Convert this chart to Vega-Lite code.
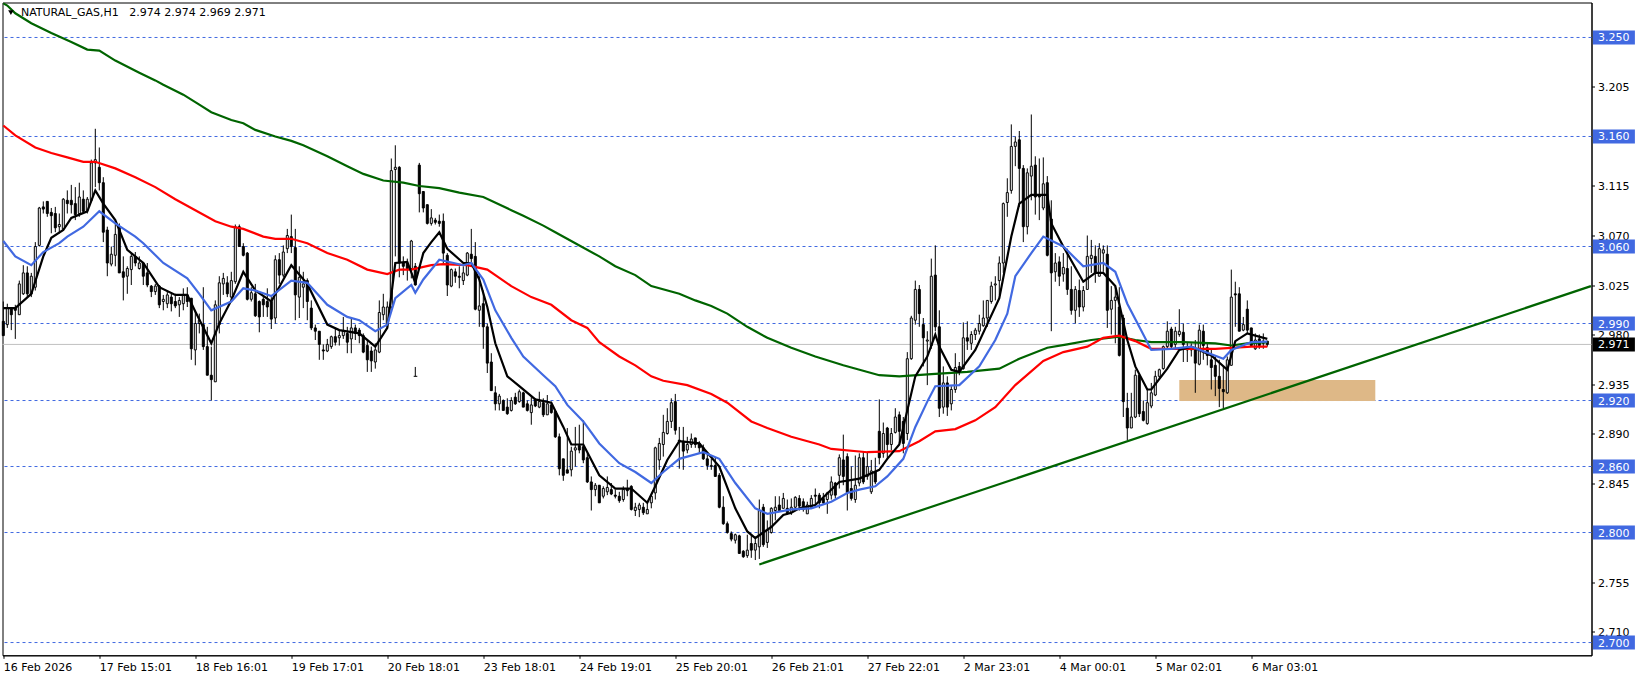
{"$schema":"https://vega.github.io/schema/vega-lite/v6.json","autosize":{"type":"none"},"padding":{"left":2.5,"top":2.5,"right":49.5,"bottom":23.7},"width":1589,"height":652.8,"background":"#ffffff","view":{"stroke":"#000000","strokeWidth":1,"fill":"#ffffff"},
"config":{"text":{"font":"DejaVu Sans","fontSize":11},"axis":{"labelFont":"DejaVu Sans","labelFontSize":11,"labelColor":"#000000","tickColor":"#000000","domainColor":"#000000","grid":false,"title":null}},
"datasets":{
"levels":[{"level":3.25,"label":"3.250"},{"level":3.16,"label":"3.160"},{"level":3.06,"label":"3.060"},{"level":2.99,"label":"2.990"},{"level":2.92,"label":"2.920"},{"level":2.86,"label":"2.860"},{"level":2.8,"label":"2.800"},{"level":2.7,"label":"2.700"}],
"candles":[
{"b":0,"o":2.992,"h":3.010,"l":2.979,"c":2.979},{"b":1,"o":2.989,"h":3.008,"l":2.986,"c":3.004},{"b":2,"o":3.004,"h":3.004,"l":2.984,"c":2.998},{"b":3,"o":3.004,"h":3.007,"l":2.976,"c":3.002},{"b":4,"o":2.998,"h":3.029,"l":2.998,"c":3.026},{"b":5,"o":3.017,"h":3.043,"l":3.016,"c":3.036},{"b":6,"o":3.036,"h":3.042,"l":3.014,"c":3.017},{"b":7,"o":3.017,"h":3.036,"l":3.014,"c":3.033},{"b":8,"o":3.023,"h":3.064,"l":3.020,"c":3.060},{"b":9,"o":3.061,"h":3.096,"l":3.060,"c":3.095},
{"b":10,"o":3.096,"h":3.101,"l":3.090,"c":3.094},{"b":11,"o":3.101,"h":3.101,"l":3.087,"c":3.090},{"b":12,"o":3.091,"h":3.095,"l":3.072,"c":3.088},{"b":13,"o":3.090,"h":3.096,"l":3.073,"c":3.077},{"b":14,"o":3.078,"h":3.090,"l":3.072,"c":3.080},{"b":15,"o":3.076,"h":3.104,"l":3.075,"c":3.103},{"b":16,"o":3.102,"h":3.111,"l":3.090,"c":3.099},{"b":17,"o":3.102,"h":3.116,"l":3.090,"c":3.098},{"b":18,"o":3.099,"h":3.114,"l":3.084,"c":3.089},{"b":19,"o":3.090,"h":3.118,"l":3.087,"c":3.105},
{"b":20,"o":3.103,"h":3.111,"l":3.090,"c":3.092},{"b":21,"o":3.093,"h":3.105,"l":3.090,"c":3.103},{"b":22,"o":3.102,"h":3.139,"l":3.102,"c":3.136},{"b":23,"o":3.136,"h":3.167,"l":3.114,"c":3.139},{"b":24,"o":3.132,"h":3.150,"l":3.111,"c":3.118},{"b":25,"o":3.118,"h":3.123,"l":3.064,"c":3.073},{"b":26,"o":3.075,"h":3.078,"l":3.033,"c":3.045},{"b":27,"o":3.044,"h":3.060,"l":3.042,"c":3.053},{"b":28,"o":3.052,"h":3.082,"l":3.042,"c":3.071},{"b":29,"o":3.078,"h":3.081,"l":3.036,"c":3.036},
{"b":30,"o":3.037,"h":3.051,"l":3.011,"c":3.032},{"b":31,"o":3.033,"h":3.042,"l":3.017,"c":3.040},{"b":32,"o":3.039,"h":3.054,"l":3.025,"c":3.051},{"b":33,"o":3.051,"h":3.055,"l":3.042,"c":3.045},{"b":34,"o":3.040,"h":3.051,"l":3.039,"c":3.045},{"b":35,"o":3.045,"h":3.046,"l":3.025,"c":3.033},{"b":36,"o":3.036,"h":3.045,"l":3.023,"c":3.025},{"b":37,"o":3.024,"h":3.025,"l":3.014,"c":3.019},{"b":38,"o":3.019,"h":3.026,"l":3.016,"c":3.024},{"b":39,"o":3.024,"h":3.025,"l":3.004,"c":3.007},
{"b":40,"o":3.010,"h":3.016,"l":3.002,"c":3.012},{"b":41,"o":3.008,"h":3.020,"l":3.004,"c":3.016},{"b":42,"o":3.014,"h":3.017,"l":3.001,"c":3.008},{"b":43,"o":3.010,"h":3.017,"l":3.004,"c":3.006},{"b":44,"o":3.007,"h":3.014,"l":2.996,"c":3.011},{"b":45,"o":3.008,"h":3.022,"l":3.002,"c":3.016},{"b":46,"o":3.016,"h":3.023,"l":3.005,"c":3.010},{"b":47,"o":3.013,"h":3.013,"l":2.957,"c":2.967},{"b":48,"o":2.966,"h":3.002,"l":2.952,"c":2.990},{"b":49,"o":2.990,"h":2.999,"l":2.981,"c":2.993},
{"b":50,"o":2.989,"h":3.023,"l":2.966,"c":2.969},{"b":51,"o":2.969,"h":2.987,"l":2.943,"c":2.943},{"b":52,"o":2.943,"h":2.969,"l":2.920,"c":2.939},{"b":53,"o":2.937,"h":3.011,"l":2.937,"c":3.007},{"b":54,"o":2.989,"h":3.033,"l":2.981,"c":3.027},{"b":55,"o":3.026,"h":3.036,"l":3.016,"c":3.031},{"b":56,"o":3.027,"h":3.033,"l":3.014,"c":3.017},{"b":57,"o":3.014,"h":3.037,"l":3.010,"c":3.029},{"b":58,"o":3.028,"h":3.080,"l":3.026,"c":3.078},{"b":59,"o":3.078,"h":3.080,"l":3.060,"c":3.060},
{"b":60,"o":3.060,"h":3.063,"l":3.051,"c":3.052},{"b":61,"o":3.054,"h":3.055,"l":3.011,"c":3.012},{"b":62,"o":3.012,"h":3.023,"l":3.010,"c":3.018},{"b":63,"o":3.017,"h":3.026,"l":2.996,"c":2.997},{"b":64,"o":3.010,"h":3.011,"l":2.982,"c":2.996},{"b":65,"o":3.012,"h":3.014,"l":2.996,"c":3.007},{"b":66,"o":3.010,"h":3.022,"l":2.996,"c":3.005},{"b":67,"o":3.010,"h":3.014,"l":2.985,"c":2.994},{"b":68,"o":2.995,"h":3.052,"l":2.990,"c":3.048},{"b":69,"o":3.048,"h":3.054,"l":3.026,"c":3.034},
{"b":70,"o":3.034,"h":3.061,"l":3.032,"c":3.055},{"b":71,"o":3.058,"h":3.076,"l":3.054,"c":3.070},{"b":72,"o":3.069,"h":3.089,"l":3.054,"c":3.060},{"b":73,"o":3.059,"h":3.076,"l":2.993,"c":3.016},{"b":74,"o":3.014,"h":3.042,"l":2.995,"c":3.032},{"b":75,"o":3.023,"h":3.037,"l":3.004,"c":3.026},{"b":76,"o":3.029,"h":3.031,"l":2.993,"c":3.010},{"b":77,"o":3.004,"h":3.011,"l":2.984,"c":2.986},{"b":78,"o":2.986,"h":2.989,"l":2.975,"c":2.983},{"b":79,"o":2.983,"h":2.983,"l":2.957,"c":2.971},
{"b":80,"o":2.966,"h":2.971,"l":2.957,"c":2.965},{"b":81,"o":2.965,"h":2.976,"l":2.964,"c":2.971},{"b":82,"o":2.969,"h":2.979,"l":2.967,"c":2.978},{"b":83,"o":2.978,"h":2.986,"l":2.970,"c":2.973},{"b":84,"o":2.977,"h":2.984,"l":2.970,"c":2.979},{"b":85,"o":2.979,"h":2.996,"l":2.976,"c":2.983},{"b":86,"o":2.981,"h":2.987,"l":2.963,"c":2.973},{"b":87,"o":2.976,"h":2.995,"l":2.963,"c":2.986},{"b":88,"o":2.986,"h":2.989,"l":2.975,"c":2.981},{"b":89,"o":2.984,"h":2.986,"l":2.972,"c":2.979},
{"b":90,"o":2.979,"h":2.981,"l":2.963,"c":2.964},{"b":91,"o":2.970,"h":2.975,"l":2.946,"c":2.957},{"b":92,"o":2.965,"h":2.969,"l":2.946,"c":2.956},{"b":93,"o":2.955,"h":2.972,"l":2.949,"c":2.966},{"b":94,"o":2.964,"h":3.011,"l":2.963,"c":3.000},{"b":95,"o":2.998,"h":3.017,"l":2.993,"c":3.005},{"b":96,"o":2.989,"h":3.010,"l":2.986,"c":3.005},{"b":97,"o":3.005,"h":3.140,"l":3.004,"c":3.129},{"b":98,"o":3.130,"h":3.152,"l":3.051,"c":3.132},{"b":99,"o":3.132,"h":3.133,"l":3.032,"c":3.045},
{"b":100,"o":3.045,"h":3.051,"l":3.034,"c":3.042},{"b":101,"o":3.045,"h":3.049,"l":3.029,"c":3.040},{"b":102,"o":3.040,"h":3.066,"l":3.031,"c":3.065},{"b":103,"o":3.042,"h":3.045,"l":3.025,"c":3.025},{"b":104,"o":3.134,"h":3.136,"l":3.091,"c":3.108},{"b":105,"o":3.110,"h":3.110,"l":3.091,"c":3.095},{"b":106,"o":3.098,"h":3.098,"l":3.080,"c":3.081},{"b":107,"o":3.081,"h":3.094,"l":3.079,"c":3.086},{"b":108,"o":3.084,"h":3.086,"l":3.080,"c":3.082},{"b":109,"o":3.083,"h":3.089,"l":3.078,"c":3.081},
{"b":110,"o":3.083,"h":3.090,"l":3.045,"c":3.054},{"b":111,"o":3.052,"h":3.054,"l":3.015,"c":3.025},{"b":112,"o":3.024,"h":3.040,"l":3.023,"c":3.039},{"b":113,"o":3.037,"h":3.040,"l":3.027,"c":3.033},{"b":114,"o":3.033,"h":3.042,"l":3.022,"c":3.032},{"b":115,"o":3.029,"h":3.042,"l":3.025,"c":3.036},{"b":116,"o":3.034,"h":3.055,"l":3.033,"c":3.054},{"b":117,"o":3.053,"h":3.076,"l":3.045,"c":3.049},{"b":118,"o":3.051,"h":3.064,"l":3.002,"c":3.003},{"b":119,"o":3.002,"h":3.033,"l":2.987,"c":3.006},
{"b":120,"o":3.008,"h":3.020,"l":2.967,"c":2.987},{"b":121,"o":2.987,"h":2.990,"l":2.945,"c":2.954},{"b":122,"o":2.955,"h":2.963,"l":2.929,"c":2.929},{"b":123,"o":2.927,"h":2.933,"l":2.911,"c":2.917},{"b":124,"o":2.917,"h":2.926,"l":2.911,"c":2.924},{"b":125,"o":2.920,"h":2.921,"l":2.911,"c":2.911},{"b":126,"o":2.914,"h":2.922,"l":2.907,"c":2.908},{"b":127,"o":2.911,"h":2.923,"l":2.910,"c":2.920},{"b":128,"o":2.923,"h":2.927,"l":2.916,"c":2.917},{"b":129,"o":2.919,"h":2.930,"l":2.918,"c":2.928},
{"b":130,"o":2.927,"h":2.928,"l":2.914,"c":2.914},{"b":131,"o":2.917,"h":2.920,"l":2.910,"c":2.911},{"b":132,"o":2.909,"h":2.923,"l":2.898,"c":2.916},{"b":133,"o":2.921,"h":2.922,"l":2.914,"c":2.915},{"b":134,"o":2.914,"h":2.928,"l":2.913,"c":2.919},{"b":135,"o":2.918,"h":2.922,"l":2.905,"c":2.907},{"b":136,"o":2.907,"h":2.925,"l":2.907,"c":2.917},{"b":137,"o":2.916,"h":2.919,"l":2.908,"c":2.909},{"b":138,"o":2.910,"h":2.911,"l":2.886,"c":2.887},{"b":139,"o":2.887,"h":2.890,"l":2.852,"c":2.858},
{"b":140,"o":2.867,"h":2.867,"l":2.847,"c":2.852},{"b":141,"o":2.857,"h":2.895,"l":2.854,"c":2.854},{"b":142,"o":2.857,"h":2.878,"l":2.851,"c":2.874},{"b":143,"o":2.875,"h":2.896,"l":2.860,"c":2.877},{"b":144,"o":2.879,"h":2.898,"l":2.872,"c":2.875},{"b":145,"o":2.878,"h":2.902,"l":2.863,"c":2.866},{"b":146,"o":2.868,"h":2.872,"l":2.845,"c":2.846},{"b":147,"o":2.846,"h":2.851,"l":2.820,"c":2.839},{"b":148,"o":2.839,"h":2.845,"l":2.833,"c":2.843},{"b":149,"o":2.843,"h":2.843,"l":2.827,"c":2.827},
{"b":150,"o":2.833,"h":2.842,"l":2.831,"c":2.840},{"b":151,"o":2.837,"h":2.851,"l":2.834,"c":2.841},{"b":152,"o":2.839,"h":2.845,"l":2.834,"c":2.835},{"b":153,"o":2.834,"h":2.839,"l":2.831,"c":2.833},{"b":154,"o":2.833,"h":2.837,"l":2.827,"c":2.829},{"b":155,"o":2.830,"h":2.842,"l":2.828,"c":2.839},{"b":156,"o":2.840,"h":2.848,"l":2.833,"c":2.838},{"b":157,"o":2.842,"h":2.843,"l":2.820,"c":2.821},{"b":158,"o":2.820,"h":2.827,"l":2.815,"c":2.823},{"b":159,"o":2.821,"h":2.827,"l":2.814,"c":2.825},
{"b":160,"o":2.823,"h":2.827,"l":2.816,"c":2.818},{"b":161,"o":2.817,"h":2.828,"l":2.817,"c":2.821},{"b":162,"o":2.827,"h":2.834,"l":2.822,"c":2.833},{"b":163,"o":2.836,"h":2.878,"l":2.830,"c":2.877},{"b":164,"o":2.866,"h":2.886,"l":2.857,"c":2.881},{"b":165,"o":2.880,"h":2.907,"l":2.869,"c":2.891},{"b":166,"o":2.890,"h":2.913,"l":2.889,"c":2.901},{"b":167,"o":2.901,"h":2.922,"l":2.895,"c":2.918},{"b":168,"o":2.919,"h":2.926,"l":2.889,"c":2.893},{"b":169,"o":2.884,"h":2.896,"l":2.858,"c":2.883},
{"b":170,"o":2.883,"h":2.896,"l":2.857,"c":2.874},{"b":171,"o":2.875,"h":2.887,"l":2.872,"c":2.880},{"b":172,"o":2.880,"h":2.890,"l":2.877,"c":2.885},{"b":173,"o":2.886,"h":2.886,"l":2.877,"c":2.880},{"b":174,"o":2.881,"h":2.883,"l":2.872,"c":2.877},{"b":175,"o":2.877,"h":2.880,"l":2.866,"c":2.867},{"b":176,"o":2.867,"h":2.872,"l":2.857,"c":2.861},{"b":177,"o":2.860,"h":2.867,"l":2.857,"c":2.861},{"b":178,"o":2.861,"h":2.868,"l":2.851,"c":2.851},{"b":179,"o":2.852,"h":2.854,"l":2.822,"c":2.823},
{"b":180,"o":2.823,"h":2.833,"l":2.807,"c":2.808},{"b":181,"o":2.808,"h":2.810,"l":2.799,"c":2.800},{"b":182,"o":2.799,"h":2.801,"l":2.792,"c":2.794},{"b":183,"o":2.793,"h":2.799,"l":2.790,"c":2.798},{"b":184,"o":2.797,"h":2.798,"l":2.781,"c":2.781},{"b":185,"o":2.783,"h":2.784,"l":2.777,"c":2.778},{"b":186,"o":2.779,"h":2.798,"l":2.777,"c":2.784},{"b":187,"o":2.790,"h":2.798,"l":2.777,"c":2.784},{"b":188,"o":2.784,"h":2.795,"l":2.775,"c":2.790},{"b":189,"o":2.787,"h":2.830,"l":2.776,"c":2.820},
{"b":190,"o":2.823,"h":2.826,"l":2.787,"c":2.789},{"b":191,"o":2.791,"h":2.811,"l":2.786,"c":2.802},{"b":192,"o":2.800,"h":2.823,"l":2.799,"c":2.822},{"b":193,"o":2.820,"h":2.833,"l":2.811,"c":2.823},{"b":194,"o":2.825,"h":2.833,"l":2.819,"c":2.820},{"b":195,"o":2.822,"h":2.836,"l":2.822,"c":2.831},{"b":196,"o":2.822,"h":2.830,"l":2.816,"c":2.818},{"b":197,"o":2.818,"h":2.831,"l":2.816,"c":2.823},{"b":198,"o":2.823,"h":2.833,"l":2.822,"c":2.832},{"b":199,"o":2.831,"h":2.834,"l":2.820,"c":2.824},
{"b":200,"o":2.828,"h":2.831,"l":2.819,"c":2.821},{"b":201,"o":2.817,"h":2.828,"l":2.817,"c":2.825},{"b":202,"o":2.823,"h":2.834,"l":2.822,"c":2.831},{"b":203,"o":2.834,"h":2.840,"l":2.823,"c":2.833},{"b":204,"o":2.834,"h":2.836,"l":2.822,"c":2.827},{"b":205,"o":2.831,"h":2.836,"l":2.825,"c":2.827},{"b":206,"o":2.830,"h":2.837,"l":2.817,"c":2.836},{"b":207,"o":2.834,"h":2.851,"l":2.830,"c":2.846},{"b":208,"o":2.845,"h":2.846,"l":2.831,"c":2.834},{"b":209,"o":2.852,"h":2.871,"l":2.840,"c":2.868},
{"b":210,"o":2.866,"h":2.889,"l":2.843,"c":2.851},{"b":211,"o":2.869,"h":2.872,"l":2.820,"c":2.836},{"b":212,"o":2.840,"h":2.860,"l":2.829,"c":2.831},{"b":213,"o":2.830,"h":2.870,"l":2.827,"c":2.843},{"b":214,"o":2.845,"h":2.872,"l":2.842,"c":2.868},{"b":215,"o":2.868,"h":2.874,"l":2.844,"c":2.846},{"b":216,"o":2.851,"h":2.873,"l":2.848,"c":2.860},{"b":217,"o":2.837,"h":2.866,"l":2.835,"c":2.856},{"b":218,"o":2.855,"h":2.868,"l":2.844,"c":2.846},{"b":219,"o":2.892,"h":2.921,"l":2.862,"c":2.868},
{"b":220,"o":2.872,"h":2.900,"l":2.868,"c":2.890},{"b":221,"o":2.895,"h":2.896,"l":2.866,"c":2.880},{"b":222,"o":2.880,"h":2.895,"l":2.875,"c":2.890},{"b":223,"o":2.891,"h":2.913,"l":2.890,"c":2.905},{"b":224,"o":2.907,"h":2.910,"l":2.881,"c":2.892},{"b":225,"o":2.901,"h":2.905,"l":2.872,"c":2.881},{"b":226,"o":2.890,"h":2.964,"l":2.884,"c":2.958},{"b":227,"o":2.958,"h":2.997,"l":2.957,"c":2.995},{"b":228,"o":2.993,"h":3.029,"l":2.989,"c":3.021},{"b":229,"o":3.021,"h":3.025,"l":2.987,"c":2.999},
{"b":230,"o":2.989,"h":2.995,"l":2.951,"c":2.977},{"b":231,"o":2.974,"h":2.983,"l":2.934,"c":2.975},{"b":232,"o":2.970,"h":3.049,"l":2.967,"c":3.033},{"b":233,"o":3.034,"h":3.061,"l":2.983,"c":2.987},{"b":234,"o":2.987,"h":3.002,"l":2.905,"c":2.913},{"b":235,"o":2.914,"h":2.951,"l":2.908,"c":2.936},{"b":236,"o":2.936,"h":2.942,"l":2.906,"c":2.914},{"b":237,"o":2.917,"h":2.933,"l":2.911,"c":2.930},{"b":238,"o":2.930,"h":2.963,"l":2.927,"c":2.950},{"b":239,"o":2.951,"h":2.955,"l":2.943,"c":2.946},
{"b":240,"o":2.949,"h":2.991,"l":2.948,"c":2.977},{"b":241,"o":2.977,"h":2.992,"l":2.966,"c":2.974},{"b":242,"o":2.972,"h":2.983,"l":2.966,"c":2.980},{"b":243,"o":2.980,"h":2.986,"l":2.975,"c":2.984},{"b":244,"o":2.983,"h":2.998,"l":2.980,"c":2.990},{"b":245,"o":2.988,"h":3.011,"l":2.987,"c":2.995},{"b":246,"o":2.995,"h":3.011,"l":2.987,"c":3.011},{"b":247,"o":3.010,"h":3.028,"l":3.008,"c":3.024},{"b":248,"o":3.025,"h":3.033,"l":3.011,"c":3.026},{"b":249,"o":3.029,"h":3.051,"l":3.016,"c":3.045},
{"b":250,"o":3.045,"h":3.100,"l":3.036,"c":3.099},{"b":251,"o":3.100,"h":3.122,"l":3.087,"c":3.109},{"b":252,"o":3.111,"h":3.171,"l":3.108,"c":3.151},{"b":253,"o":3.151,"h":3.160,"l":3.133,"c":3.155},{"b":254,"o":3.157,"h":3.165,"l":3.096,"c":3.131},{"b":255,"o":3.131,"h":3.134,"l":3.064,"c":3.078},{"b":256,"o":3.078,"h":3.131,"l":3.071,"c":3.127},{"b":257,"o":3.124,"h":3.180,"l":3.102,"c":3.133},{"b":258,"o":3.134,"h":3.142,"l":3.089,"c":3.105},{"b":259,"o":3.107,"h":3.140,"l":3.084,"c":3.105},
{"b":260,"o":3.095,"h":3.141,"l":3.093,"c":3.117},{"b":261,"o":3.118,"h":3.124,"l":3.051,"c":3.052},{"b":262,"o":3.085,"h":3.102,"l":2.983,"c":3.036},{"b":263,"o":3.037,"h":3.054,"l":3.028,"c":3.045},{"b":264,"o":3.046,"h":3.051,"l":3.024,"c":3.033},{"b":265,"o":3.035,"h":3.054,"l":3.028,"c":3.041},{"b":266,"o":3.040,"h":3.058,"l":3.016,"c":3.021},{"b":267,"o":3.021,"h":3.042,"l":2.998,"c":3.002},{"b":268,"o":3.002,"h":3.024,"l":2.990,"c":3.021},{"b":269,"o":3.020,"h":3.030,"l":2.996,"c":3.005},
{"b":270,"o":3.005,"h":3.024,"l":3.001,"c":3.020},{"b":271,"o":3.021,"h":3.070,"l":3.021,"c":3.051},{"b":272,"o":3.049,"h":3.066,"l":3.036,"c":3.052},{"b":273,"o":3.051,"h":3.061,"l":3.027,"c":3.036},{"b":274,"o":3.033,"h":3.063,"l":3.033,"c":3.058},{"b":275,"o":3.054,"h":3.061,"l":3.037,"c":3.057},{"b":276,"o":3.053,"h":3.061,"l":2.986,"c":3.002},{"b":277,"o":3.003,"h":3.024,"l":2.980,"c":3.011},{"b":278,"o":3.011,"h":3.025,"l":2.972,"c":3.014},{"b":279,"o":3.005,"h":3.023,"l":2.960,"c":2.961},
{"b":280,"o":2.995,"h":2.998,"l":2.905,"c":2.919},{"b":281,"o":2.913,"h":2.927,"l":2.884,"c":2.895},{"b":282,"o":2.895,"h":2.927,"l":2.895,"c":2.905},{"b":283,"o":2.905,"h":2.948,"l":2.904,"c":2.943},{"b":284,"o":2.943,"h":2.945,"l":2.905,"c":2.908},{"b":285,"o":2.910,"h":2.920,"l":2.901,"c":2.902},{"b":286,"o":2.899,"h":2.930,"l":2.898,"c":2.918},{"b":287,"o":2.915,"h":2.936,"l":2.913,"c":2.927},{"b":288,"o":2.925,"h":2.947,"l":2.924,"c":2.942},{"b":289,"o":2.942,"h":2.949,"l":2.940,"c":2.948},
{"b":290,"o":2.949,"h":2.970,"l":2.948,"c":2.969},{"b":291,"o":2.969,"h":2.992,"l":2.967,"c":2.983},{"b":292,"o":2.985,"h":2.987,"l":2.967,"c":2.969},{"b":293,"o":2.971,"h":2.987,"l":2.967,"c":2.983},{"b":294,"o":2.980,"h":3.003,"l":2.978,"c":2.983},{"b":295,"o":2.982,"h":2.990,"l":2.955,"c":2.971},{"b":296,"o":2.969,"h":2.973,"l":2.955,"c":2.966},{"b":297,"o":2.969,"h":2.972,"l":2.960,"c":2.966},{"b":298,"o":2.967,"h":2.975,"l":2.927,"c":2.954},{"b":299,"o":2.953,"h":2.989,"l":2.952,"c":2.984},
{"b":300,"o":2.983,"h":2.989,"l":2.957,"c":2.970},{"b":301,"o":2.968,"h":2.972,"l":2.952,"c":2.961},{"b":302,"o":2.957,"h":2.966,"l":2.930,"c":2.950},{"b":303,"o":2.952,"h":2.960,"l":2.924,"c":2.942},{"b":304,"o":2.942,"h":2.957,"l":2.914,"c":2.931},{"b":305,"o":2.930,"h":2.951,"l":2.913,"c":2.928},{"b":306,"o":2.927,"h":2.960,"l":2.926,"c":2.957},{"b":307,"o":2.952,"h":3.039,"l":2.952,"c":3.014},{"b":308,"o":3.017,"h":3.028,"l":2.987,"c":3.016},{"b":309,"o":3.017,"h":3.023,"l":2.983,"c":2.983},
{"b":310,"o":2.984,"h":2.996,"l":2.983,"c":2.989},{"b":311,"o":3.003,"h":3.011,"l":2.981,"c":2.984},{"b":312,"o":2.986,"h":2.986,"l":2.969,"c":2.970},{"b":313,"o":2.967,"h":2.981,"l":2.966,"c":2.975},{"b":314,"o":2.976,"h":2.980,"l":2.967,"c":2.970},{"b":315,"o":2.974,"h":2.981,"l":2.967,"c":2.972},{"b":316,"o":2.974,"h":2.974,"l":2.969,"c":2.971}],
"ma":[
{"s":"green","b":0,"v":3.281},{"s":"green","b":1,"v":3.279},{"s":"green","b":3,"v":3.272},{"s":"green","b":7,"v":3.263},{"s":"green","b":12,"v":3.254},{"s":"green","b":17,"v":3.246},{"s":"green","b":21,"v":3.239},{"s":"green","b":24,"v":3.238},{"s":"green","b":28,"v":3.229},{"s":"green","b":34,"v":3.218},{"s":"green","b":38,"v":3.211},{"s":"green","b":40,"v":3.207},{"s":"green","b":45,"v":3.198},{"s":"green","b":49,"v":3.189},{"s":"green","b":52,"v":3.182},{"s":"green","b":57,"v":3.175},{"s":"green","b":60,"v":3.172},{"s":"green","b":63,"v":3.166},{"s":"green","b":68,"v":3.160},{"s":"green","b":72,"v":3.156},{"s":"green","b":75,"v":3.152},{"s":"green","b":81,"v":3.142},{"s":"green","b":86,"v":3.133},{"s":"green","b":90,"v":3.126},{"s":"green","b":95,"v":3.120},{"s":"green","b":100,"v":3.118},{"s":"green","b":104,"v":3.115},{"s":"green","b":109,"v":3.113},{"s":"green","b":114,"v":3.109},{"s":"green","b":120,"v":3.105},{"s":"green","b":127,"v":3.093},{"s":"green","b":130,"v":3.088},{"s":"green","b":135,"v":3.079},{"s":"green","b":138,"v":3.073},{"s":"green","b":143,"v":3.063},{"s":"green","b":149,"v":3.051},{"s":"green","b":153,"v":3.042},{"s":"green","b":158,"v":3.034},{"s":"green","b":162,"v":3.024},{"s":"green","b":169,"v":3.017},{"s":"green","b":173,"v":3.011},{"s":"green","b":177,"v":3.006},{"s":"green","b":181,"v":2.999},{"s":"green","b":186,"v":2.987},{"s":"green","b":191,"v":2.977},{"s":"green","b":197,"v":2.968},{"s":"green","b":203,"v":2.960},{"s":"green","b":210,"v":2.952},{"s":"green","b":219,"v":2.943},{"s":"green","b":224,"v":2.942},{"s":"green","b":232,"v":2.944},{"s":"green","b":241,"v":2.946},{"s":"green","b":249,"v":2.949},{"s":"green","b":254,"v":2.958},{"s":"green","b":261,"v":2.968},{"s":"green","b":266,"v":2.971},{"s":"green","b":272,"v":2.975},{"s":"green","b":279,"v":2.978},{"s":"green","b":283,"v":2.975},{"s":"green","b":287,"v":2.973},{"s":"green","b":295,"v":2.973},{"s":"green","b":303,"v":2.972},{"s":"green","b":307,"v":2.970},{"s":"green","b":311,"v":2.972},{"s":"green","b":316,"v":2.973},
{"s":"red","b":0,"v":3.170},{"s":"red","b":3,"v":3.161},{"s":"red","b":8,"v":3.150},{"s":"red","b":12,"v":3.145},{"s":"red","b":16,"v":3.141},{"s":"red","b":20,"v":3.137},{"s":"red","b":23,"v":3.137},{"s":"red","b":28,"v":3.131},{"s":"red","b":33,"v":3.123},{"s":"red","b":38,"v":3.114},{"s":"red","b":43,"v":3.103},{"s":"red","b":48,"v":3.093},{"s":"red","b":53,"v":3.083},{"s":"red","b":57,"v":3.078},{"s":"red","b":60,"v":3.076},{"s":"red","b":65,"v":3.069},{"s":"red","b":68,"v":3.067},{"s":"red","b":72,"v":3.067},{"s":"red","b":76,"v":3.063},{"s":"red","b":81,"v":3.054},{"s":"red","b":86,"v":3.048},{"s":"red","b":91,"v":3.039},{"s":"red","b":96,"v":3.035},{"s":"red","b":99,"v":3.039},{"s":"red","b":102,"v":3.039},{"s":"red","b":107,"v":3.043},{"s":"red","b":110,"v":3.044},{"s":"red","b":116,"v":3.043},{"s":"red","b":121,"v":3.039},{"s":"red","b":127,"v":3.024},{"s":"red","b":132,"v":3.014},{"s":"red","b":137,"v":3.007},{"s":"red","b":142,"v":2.993},{"s":"red","b":146,"v":2.986},{"s":"red","b":149,"v":2.973},{"s":"red","b":154,"v":2.960},{"s":"red","b":158,"v":2.952},{"s":"red","b":162,"v":2.942},{"s":"red","b":165,"v":2.938},{"s":"red","b":171,"v":2.934},{"s":"red","b":177,"v":2.926},{"s":"red","b":181,"v":2.918},{"s":"red","b":187,"v":2.901},{"s":"red","b":191,"v":2.895},{"s":"red","b":197,"v":2.887},{"s":"red","b":204,"v":2.880},{"s":"red","b":207,"v":2.876},{"s":"red","b":216,"v":2.873},{"s":"red","b":224,"v":2.874},{"s":"red","b":229,"v":2.883},{"s":"red","b":233,"v":2.892},{"s":"red","b":238,"v":2.894},{"s":"red","b":243,"v":2.902},{"s":"red","b":248,"v":2.914},{"s":"red","b":253,"v":2.934},{"s":"red","b":260,"v":2.956},{"s":"red","b":265,"v":2.964},{"s":"red","b":271,"v":2.969},{"s":"red","b":275,"v":2.977},{"s":"red","b":279,"v":2.979},{"s":"red","b":283,"v":2.974},{"s":"red","b":287,"v":2.967},{"s":"red","b":295,"v":2.967},{"s":"red","b":303,"v":2.967},{"s":"red","b":308,"v":2.968},{"s":"red","b":312,"v":2.969},{"s":"red","b":316,"v":2.969},
{"s":"black","b":0,"v":3.004},{"s":"black","b":3,"v":3.004},{"s":"black","b":7,"v":3.017},{"s":"black","b":10,"v":3.051},{"s":"black","b":12,"v":3.068},{"s":"black","b":15,"v":3.075},{"s":"black","b":17,"v":3.086},{"s":"black","b":21,"v":3.092},{"s":"black","b":23,"v":3.111},{"s":"black","b":25,"v":3.099},{"s":"black","b":28,"v":3.084},{"s":"black","b":31,"v":3.057},{"s":"black","b":35,"v":3.045},{"s":"black","b":39,"v":3.023},{"s":"black","b":43,"v":3.016},{"s":"black","b":46,"v":3.016},{"s":"black","b":48,"v":3.001},{"s":"black","b":52,"v":2.972},{"s":"black","b":54,"v":2.990},{"s":"black","b":57,"v":3.011},{"s":"black","b":60,"v":3.037},{"s":"black","b":63,"v":3.020},{"s":"black","b":67,"v":3.010},{"s":"black","b":72,"v":3.043},{"s":"black","b":76,"v":3.026},{"s":"black","b":81,"v":2.989},{"s":"black","b":84,"v":2.984},{"s":"black","b":89,"v":2.981},{"s":"black","b":93,"v":2.969},{"s":"black","b":96,"v":2.986},{"s":"black","b":98,"v":3.045},{"s":"black","b":101,"v":3.046},{"s":"black","b":103,"v":3.027},{"s":"black","b":105,"v":3.054},{"s":"black","b":107,"v":3.064},{"s":"black","b":109,"v":3.073},{"s":"black","b":111,"v":3.058},{"s":"black","b":115,"v":3.045},{"s":"black","b":117,"v":3.045},{"s":"black","b":119,"v":3.030},{"s":"black","b":121,"v":3.005},{"s":"black","b":123,"v":2.972},{"s":"black","b":126,"v":2.942},{"s":"black","b":129,"v":2.933},{"s":"black","b":133,"v":2.921},{"s":"black","b":137,"v":2.918},{"s":"black","b":140,"v":2.896},{"s":"black","b":142,"v":2.880},{"s":"black","b":145,"v":2.880},{"s":"black","b":149,"v":2.852},{"s":"black","b":153,"v":2.840},{"s":"black","b":157,"v":2.840},{"s":"black","b":161,"v":2.827},{"s":"black","b":163,"v":2.842},{"s":"black","b":166,"v":2.866},{"s":"black","b":169,"v":2.883},{"s":"black","b":174,"v":2.881},{"s":"black","b":179,"v":2.860},{"s":"black","b":183,"v":2.822},{"s":"black","b":186,"v":2.801},{"s":"black","b":188,"v":2.795},{"s":"black","b":192,"v":2.805},{"s":"black","b":195,"v":2.816},{"s":"black","b":197,"v":2.818},{"s":"black","b":199,"v":2.822},{"s":"black","b":203,"v":2.825},{"s":"black","b":209,"v":2.846},{"s":"black","b":214,"v":2.849},{"s":"black","b":219,"v":2.857},{"s":"black","b":221,"v":2.867},{"s":"black","b":224,"v":2.880},{"s":"black","b":228,"v":2.942},{"s":"black","b":231,"v":2.960},{"s":"black","b":233,"v":2.980},{"s":"black","b":234,"v":2.969},{"s":"black","b":237,"v":2.948},{"s":"black","b":239,"v":2.946},{"s":"black","b":243,"v":2.966},{"s":"black","b":249,"v":3.013},{"s":"black","b":252,"v":3.069},{"s":"black","b":254,"v":3.099},{"s":"black","b":257,"v":3.107},{"s":"black","b":261,"v":3.107},{"s":"black","b":262,"v":3.081},{"s":"black","b":265,"v":3.060},{"s":"black","b":270,"v":3.028},{"s":"black","b":273,"v":3.036},{"s":"black","b":275,"v":3.036},{"s":"black","b":278,"v":3.024},{"s":"black","b":281,"v":2.975},{"s":"black","b":283,"v":2.951},{"s":"black","b":286,"v":2.930},{"s":"black","b":287,"v":2.930},{"s":"black","b":291,"v":2.949},{"s":"black","b":294,"v":2.966},{"s":"black","b":297,"v":2.969},{"s":"black","b":302,"v":2.961},{"s":"black","b":306,"v":2.948},{"s":"black","b":308,"v":2.974},{"s":"black","b":311,"v":2.981},{"s":"black","b":316,"v":2.976},
{"s":"blue","b":0,"v":3.065},{"s":"blue","b":3,"v":3.051},{"s":"blue","b":7,"v":3.043},{"s":"blue","b":10,"v":3.055},{"s":"blue","b":14,"v":3.063},{"s":"blue","b":16,"v":3.069},{"s":"blue","b":20,"v":3.078},{"s":"blue","b":24,"v":3.092},{"s":"blue","b":28,"v":3.081},{"s":"blue","b":33,"v":3.069},{"s":"blue","b":35,"v":3.063},{"s":"blue","b":40,"v":3.045},{"s":"blue","b":46,"v":3.031},{"s":"blue","b":49,"v":3.017},{"s":"blue","b":52,"v":3.002},{"s":"blue","b":57,"v":3.010},{"s":"blue","b":60,"v":3.022},{"s":"blue","b":63,"v":3.020},{"s":"blue","b":67,"v":3.015},{"s":"blue","b":72,"v":3.029},{"s":"blue","b":76,"v":3.027},{"s":"blue","b":81,"v":3.007},{"s":"blue","b":86,"v":2.996},{"s":"blue","b":89,"v":2.993},{"s":"blue","b":93,"v":2.983},{"s":"blue","b":96,"v":2.989},{"s":"blue","b":98,"v":3.013},{"s":"blue","b":102,"v":3.025},{"s":"blue","b":103,"v":3.018},{"s":"blue","b":105,"v":3.030},{"s":"blue","b":109,"v":3.048},{"s":"blue","b":115,"v":3.043},{"s":"blue","b":117,"v":3.045},{"s":"blue","b":120,"v":3.030},{"s":"blue","b":123,"v":3.002},{"s":"blue","b":127,"v":2.977},{"s":"blue","b":130,"v":2.960},{"s":"blue","b":135,"v":2.943},{"s":"blue","b":138,"v":2.933},{"s":"blue","b":141,"v":2.916},{"s":"blue","b":145,"v":2.901},{"s":"blue","b":149,"v":2.881},{"s":"blue","b":154,"v":2.863},{"s":"blue","b":158,"v":2.855},{"s":"blue","b":162,"v":2.845},{"s":"blue","b":165,"v":2.855},{"s":"blue","b":169,"v":2.867},{"s":"blue","b":171,"v":2.869},{"s":"blue","b":175,"v":2.873},{"s":"blue","b":179,"v":2.867},{"s":"blue","b":183,"v":2.845},{"s":"blue","b":188,"v":2.822},{"s":"blue","b":191,"v":2.817},{"s":"blue","b":197,"v":2.821},{"s":"blue","b":202,"v":2.822},{"s":"blue","b":207,"v":2.828},{"s":"blue","b":211,"v":2.836},{"s":"blue","b":214,"v":2.839},{"s":"blue","b":218,"v":2.842},{"s":"blue","b":221,"v":2.851},{"s":"blue","b":225,"v":2.867},{"s":"blue","b":228,"v":2.896},{"s":"blue","b":231,"v":2.919},{"s":"blue","b":233,"v":2.933},{"s":"blue","b":239,"v":2.934},{"s":"blue","b":244,"v":2.951},{"s":"blue","b":248,"v":2.975},{"s":"blue","b":251,"v":2.999},{"s":"blue","b":253,"v":3.033},{"s":"blue","b":257,"v":3.054},{"s":"blue","b":260,"v":3.069},{"s":"blue","b":265,"v":3.060},{"s":"blue","b":270,"v":3.042},{"s":"blue","b":275,"v":3.045},{"s":"blue","b":278,"v":3.037},{"s":"blue","b":281,"v":3.008},{"s":"blue","b":284,"v":2.987},{"s":"blue","b":287,"v":2.966},{"s":"blue","b":292,"v":2.967},{"s":"blue","b":297,"v":2.969},{"s":"blue","b":305,"v":2.958},{"s":"blue","b":307,"v":2.966},{"s":"blue","b":312,"v":2.973},{"s":"blue","b":316,"v":2.9735}],
"trend":[{"b":189,"v":2.771},{"b":396.9,"v":3.024}],
"zone":[{"b0":294,"b1":343,"top":2.9386,"bottom":2.9195}],
"glyph":[{"b":103,"top":2.9505,"bottom":2.942}]
},
"layer":[
{"data":{"name":"levels"},"mark":{"type":"rule","stroke":"#4169E1","strokeWidth":1,"strokeDash":[3,3]},"encoding":{"y":{"field":"level","type":"quantitative","scale":{"domain":[2.6884,3.2818],"nice":false,"zero":false},"axis":{"orient":"right","values":[2.71,2.755,2.845,2.89,2.935,2.98,3.025,3.07,3.115,3.205],"format":".3f","tickSize":3,"labelPadding":3,"domain":true,"labelOverlap":false,"labelBound":false,"labelFlush":false,"labelBaseline":"middle","labelOffset":1}}}},
{"data":{"values":[{"p":2.971}]},"mark":{"type":"rule","stroke":"#C0C0C0","strokeWidth":1},"encoding":{"y":{"field":"p","type":"quantitative"}}},
{"data":{"name":"zone"},"mark":{"type":"rect","fill":"#DEB887"},"encoding":{"x":{"field":"b0","type":"quantitative"},"x2":{"field":"b1"},"y":{"field":"top","type":"quantitative"},"y2":{"field":"bottom"}}},
{"data":{"name":"candles"},"mark":{"type":"rule","stroke":"#000000","strokeWidth":1},"encoding":{"x":{"field":"b","type":"quantitative","scale":{"domain":[-0.2,397.05],"nice":false,"zero":false,"padding":0},"axis":{"orient":"bottom","values":[0,24,48,72,96,120,144,168,192,216,240,264,288,312],"labelExpr":"['16 Feb 2026','17 Feb 15:01','18 Feb 16:01','19 Feb 17:01','20 Feb 18:01','23 Feb 18:01','24 Feb 19:01','25 Feb 20:01','26 Feb 21:01','27 Feb 22:01','2 Mar 23:01','4 Mar 00:01','5 Mar 02:01','6 Mar 03:01'][datum.value/24]","labelAlign":"left","labelDx":-1,"tickSize":3,"labelPadding":3,"labelOverlap":false,"labelBound":false,"labelFlush":false}},"y":{"field":"l","type":"quantitative"},"y2":{"field":"h"}}},
{"data":{"name":"candles"},"mark":{"type":"bar","size":2,"stroke":"#000000","strokeWidth":1},"encoding":{"x":{"field":"b","type":"quantitative"},"y":{"field":"o","type":"quantitative"},"y2":{"field":"c"},"fill":{"condition":{"test":"datum.c>datum.o","value":"#ffffff"},"value":"#000000"}}},
{"data":{"name":"ma"},"transform":[{"filter":"datum.s==='green'"}],"mark":{"type":"line","stroke":"#006400","strokeWidth":2.2},"encoding":{"x":{"field":"b","type":"quantitative"},"y":{"field":"v","type":"quantitative"}}},
{"data":{"name":"ma"},"transform":[{"filter":"datum.s==='red'"}],"mark":{"type":"line","stroke":"#FF0000","strokeWidth":2.2},"encoding":{"x":{"field":"b","type":"quantitative"},"y":{"field":"v","type":"quantitative"}}},
{"data":{"name":"ma"},"transform":[{"filter":"datum.s==='black'"}],"mark":{"type":"line","stroke":"#000000","strokeWidth":2.2},"encoding":{"x":{"field":"b","type":"quantitative"},"y":{"field":"v","type":"quantitative"}}},
{"data":{"name":"ma"},"transform":[{"filter":"datum.s==='blue'"}],"mark":{"type":"line","stroke":"#4169E1","strokeWidth":2.2},"encoding":{"x":{"field":"b","type":"quantitative"},"y":{"field":"v","type":"quantitative"}}},
{"data":{"name":"trend"},"mark":{"type":"line","stroke":"#006400","strokeWidth":2.2},"encoding":{"x":{"field":"b","type":"quantitative"},"y":{"field":"v","type":"quantitative"}}},
{"data":{"name":"glyph"},"mark":{"type":"rule","stroke":"#000000","strokeWidth":1},"encoding":{"x":{"field":"b","type":"quantitative"},"y":{"field":"top","type":"quantitative"},"y2":{"field":"bottom"}}},
{"data":{"name":"glyph"},"mark":{"type":"rule","stroke":"#000000","strokeWidth":1},"encoding":{"x":{"datum":102.6},"x2":{"datum":103.5},"y":{"field":"bottom","type":"quantitative"}}},
{"data":{"name":"levels"},"mark":{"type":"rule","stroke":"#4169E1","strokeWidth":14},"encoding":{"x":{"datum":397.4},"x2":{"datum":407.9},"y":{"field":"level","type":"quantitative"}}},
{"data":{"name":"levels"},"mark":{"type":"text","align":"left","baseline":"middle","color":"#ffffff","dy":1},"encoding":{"x":{"datum":398.7},"y":{"field":"level","type":"quantitative"},"text":{"field":"label"}}},
{"data":{"values":[{"p":2.971,"label":"2.971"}]},"mark":{"type":"rule","stroke":"#000000","strokeWidth":14},"encoding":{"x":{"datum":397.4},"x2":{"datum":407.9},"y":{"field":"p","type":"quantitative"}}},
{"data":{"values":[{"p":2.971,"label":"2.971"}]},"mark":{"type":"text","align":"left","baseline":"middle","color":"#ffffff","dy":1},"encoding":{"x":{"datum":398.7},"y":{"field":"p","type":"quantitative"},"text":{"field":"label"}}},
{"data":{"values":[{"p":3.2725,"label":"NATURAL_GAS,H1\u00a0\u00a0\u00a02.974 2.974 2.969 2.971"}]},"mark":{"type":"text","align":"left","baseline":"middle","color":"#000000"},"encoding":{"x":{"datum":4.4},"y":{"field":"p","type":"quantitative"},"text":{"field":"label"}}},
{"data":{"values":[{"p":3.2725}]},"mark":{"type":"point","shape":"triangle-down","filled":true,"color":"#000000","size":30,"opacity":1},"encoding":{"x":{"datum":1.9},"y":{"field":"p","type":"quantitative"}}}
]}
